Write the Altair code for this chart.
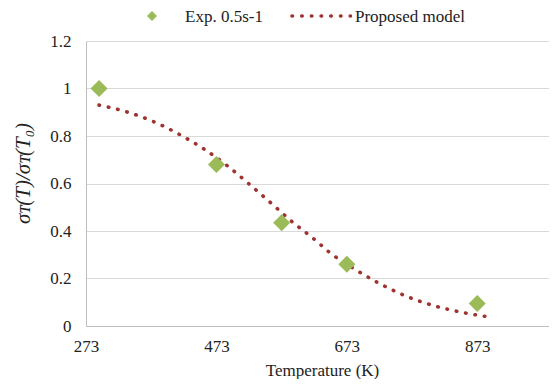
import altair as alt
import pandas as pd

# Experimental points
exp_T = [293, 473, 573, 673, 873]
exp_v = [1.0, 0.68, 0.435, 0.26, 0.095]

# Proposed model curve
mod_T = [293, 336, 377, 416, 454, 490, 524, 557, 590, 625, 646, 683, 721, 761, 802, 845, 889]
mod_v = [0.930, 0.901, 0.860, 0.807, 0.745, 0.674, 0.596, 0.517, 0.437, 0.361, 0.311,
         0.243, 0.182, 0.129, 0.089, 0.060, 0.039]

series = ["Exp. 0.5s-1", "Proposed model"]
x_ticks = [273, 473, 673, 873]
y_ticks = [0, 0.2, 0.4, 0.6, 0.8, 1.0, 1.2]

GREEN = "#9BBB59"
RED = "#9E3330"
FONT = "Liberation Serif"

exp_df = pd.DataFrame({"T": exp_T, "v": exp_v})
mod_df = pd.DataFrame({"T": mod_T, "v": mod_v})

W, H = 463, 285

xscale = alt.Scale(domain=[273, 983], nice=False, zero=False)
yscale = alt.Scale(domain=[0, 1.2], nice=False)

xaxis = alt.Axis(values=x_ticks, format="d", title="Temperature (K)", grid=False,
                 ticks=False, labelPadding=12, labelFontSize=17, labelFont=FONT,
                 labelFlush=False, labelOverlap=False,
                 labelColor="#222", titleFont=FONT, titleFontSize=17,
                 titleFontWeight="normal", titleColor="#222",
                 domainColor="#BFBFBF", titleX=236, titleY=44, titleBaseline="middle")
yaxis = alt.Axis(values=y_ticks, format=".1~f", title="σᴛ(T)/σᴛ(T₀)", grid=True,
                 gridColor="#D9D9D9", ticks=False, labelPadding=15, labelFontSize=17,
                 labelFont=FONT, labelColor="#222", titleFont=FONT, titleFontSize=21,
                 labelFlush=False, labelOverlap=False,
                 titleFontStyle="italic", titleFontWeight="normal", titleColor="#222",
                 domainColor="#BFBFBF", titleX=-53, titleY=132)

line = alt.Chart(mod_df).mark_line(
    color=RED, strokeWidth=3.6, strokeCap="round", strokeDash=[0.5, 9], interpolate="monotone"
).encode(x=alt.X("T:Q", scale=xscale, axis=xaxis), y=alt.Y("v:Q", scale=yscale, axis=yaxis))

pts = alt.Chart(exp_df).mark_point(
    shape="diamond", filled=True, size=290, color=GREEN, opacity=1
).encode(x=alt.X("T:Q", scale=xscale), y=alt.Y("v:Q", scale=yscale))

one = pd.DataFrame({"a": [0]})
LY = -25
leg_pt = alt.Chart(one).mark_point(shape="diamond", filled=True, size=100, color=GREEN, opacity=1).encode(
    x=alt.value(66), y=alt.value(LY))
leg_t1 = alt.Chart(one).mark_text(align="left", baseline="middle", font=FONT, fontSize=17, color="#222").encode(
    x=alt.value(99), y=alt.value(LY + 1), text=alt.value(series[0]))
leg_line = alt.Chart(one).mark_rule(color=RED, strokeWidth=3.6, strokeCap="round", strokeDash=[0.5, 9.2]).encode(
    x=alt.value(206), x2=alt.value(264.5), y=alt.value(LY))
leg_t2 = alt.Chart(one).mark_text(align="left", baseline="middle", font=FONT, fontSize=17, color="#222").encode(
    x=alt.value(269), y=alt.value(LY + 1), text=alt.value(series[1]))

chart = alt.layer(line, pts, leg_pt, leg_t1, leg_line, leg_t2).properties(
    width=W, height=H,
    autosize=alt.AutoSizeParams(type="none"),
    padding={"left": 78, "top": 33, "right": 0, "bottom": 53},
    background="white",
).configure_view(stroke=None)

chart.save("out.html", embed_options={"renderer": "svg", "actions": False})
